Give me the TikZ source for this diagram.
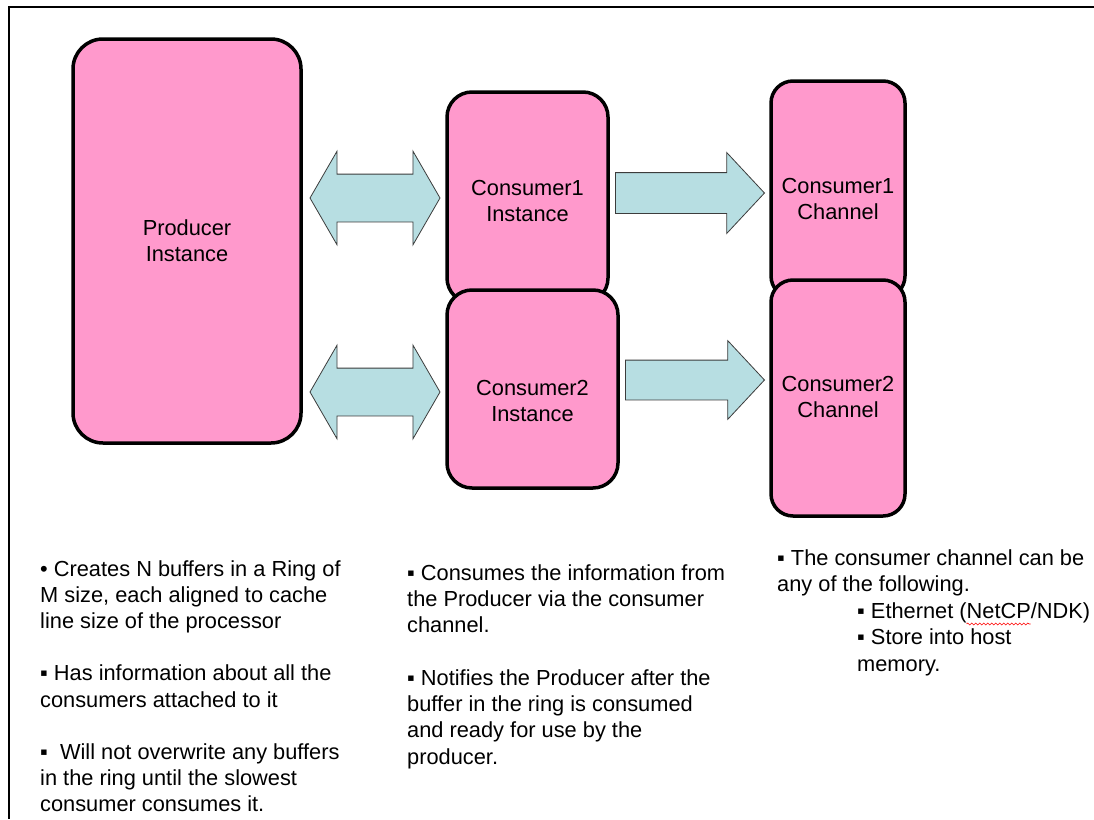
\documentclass[tikz,border=0pt]{standalone}
\usepackage{fontspec}
\setmainfont{Liberation Sans}
\usepackage{xcolor}
\definecolor{blockpink}{RGB}{255,153,204}
\definecolor{arrowteal}{RGB}{183,222,226}
\definecolor{arrowedge}{RGB}{60,60,60}
\usetikzlibrary{shapes.arrows, positioning, calc, decorations.pathmorphing}
\newcommand{\notefont}{\fontsize{21.8}{26.2}\selectfont}
\newlength{\netcpstart}
\newlength{\netcpwidth}

\tikzset{
  block/.style={draw=black, line width=3.5pt, fill=blockpink, inner sep=0pt, rounded corners=#1},
  block/.default=25pt,
  blocklabel/.style={align=center, inner sep=0pt, font=\fontsize{21.8}{26}\selectfont},
  twoway/.style={double arrow, draw=arrowedge, fill=arrowteal, line width=0.8pt,
    inner xsep=0pt, inner ysep=23.5pt, double arrow head extend=23pt,
    double arrow tip angle=120, minimum height=130pt},
  oneway/.style={single arrow, draw=arrowedge, fill=arrowteal, line width=0.8pt,
    inner xsep=0pt, inner ysep=20pt, single arrow head extend=20pt,
    single arrow tip angle=94, anchor=tip},
  notes/.style={align=left, inner sep=0pt, anchor=base west, font=\notefont},
  squiggle/.style={red, line width=0.6pt, decorate,
    decoration={snake, segment length=4pt, amplitude=1pt}}
}

\begin{document}
\settowidth{\netcpstart}{\notefont ▪ Ethernet (}%
\settowidth{\netcpwidth}{\notefont NetCP}%
\begin{tikzpicture}[x=1pt, y=-1pt]
  \useasboundingbox (0,0) rectangle (1094,819);
  \fill[white] (0,0) rectangle (1094,819);

  % frame (top and left edges only)
  \draw[line width=2.5pt] (1094,7) -- (9,7) -- (9,819);

  % producer
  \node[block=30pt, minimum width=228pt, minimum height=404pt] (prod) at (187,241) {};
  \node[blocklabel] (prodtxt) at (prod.center) {Producer\\Instance};

  % consumer instances (second one overlaps the first)
  \node[block, minimum width=161pt, minimum height=211pt] (cons1) at (527.5,197.5) {};
  \node[blocklabel] (cons1txt) at ([yshift=-3.5pt]cons1.center) {Consumer1\\Instance};
  \node[block, minimum width=171pt, minimum height=198pt] (cons2) at (532.5,389) {};
  \node[blocklabel] (cons2txt) at ([yshift=-12pt]cons2.center) {Consumer2\\Instance};

  % consumer channels
  \node[block=22pt, minimum width=134pt, minimum height=217pt] (chan1) at (838,189.5) {};
  \node[blocklabel] (chan1txt) at ([yshift=-9pt]chan1.center) {Consumer1\\Channel};
  \node[block=22pt, minimum width=134pt, minimum height=236pt] (chan2) at (838,398) {};
  \node[blocklabel] (chan2txt) at ([yshift=1pt]chan2.center) {Consumer2\\Channel};

  % block arrows
  \node[twoway] (link1) at (375,198) {};
  \node[twoway] (link2) at (375,392) {};
  \node[oneway, minimum height=149pt] (feed1) at (765,193) {};
  \node[oneway, minimum height=139pt, inner ysep=19.5pt, single arrow head extend=19.5pt] (feed2) at (765,380) {};

  % notes under the blocks (anchored on their last baseline)
  \node[notes] (prodnotes) at (40,811.8) {%
    • Creates N buffers in a Ring of\\
    M size, each aligned to cache\\
    line size of the processor\\[26.2pt]
    ▪ Has information about all the\\
    consumers attached to it\\[26.2pt]
    ▪ \ Will not overwrite any buffers\\
    in the ring until the slowest\\
    consumer consumes it.};
  \node[notes] (consnotes) at (407,764) {%
    ▪ Consumes the information from\\
    the Producer via the consumer\\
    channel.\\[26.3pt]
    ▪ Notifies the Producer after the\\
    buffer in the ring is consumed\\
    and ready for use by the\\
    producer.};
  \node[notes, font=\fontsize{21.8}{26.5}\selectfont] (channotes) at (777,671) {%
    ▪ The consumer channel can be\\
    any of the following.\\
    \hspace*{80pt}▪ Ethernet (NetCP/NDK)\\
    \hspace*{80pt}▪ Store into host\\
    \hspace*{80pt}memory.};

  % spell-check squiggle under NetCP
  \coordinate (netcp) at ([yshift=47pt]channotes.base west);
  \draw[squiggle] ([xshift=80pt]netcp) ++(\netcpstart,0) -- ++(\netcpwidth,0);
\end{tikzpicture}
\end{document}
